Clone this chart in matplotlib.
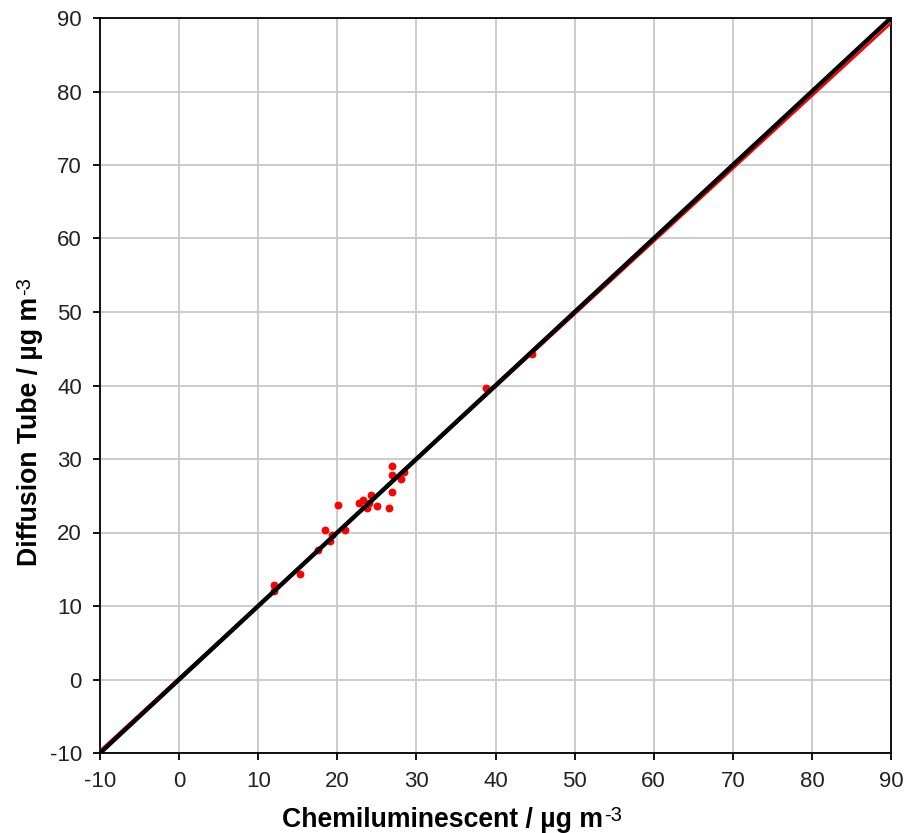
import matplotlib.pyplot as plt
import numpy as np

plt.rcParams['font.family'] = ['Liberation Sans', 'DejaVu Sans']
plt.rcParams['axes.unicode_minus'] = False

# chemiluminescent vs diffusion tube readings (ug m-3)
chemi = [26.9, 26.9, 28.4, 28.0, 26.9, 24.2, 22.8, 23.25, 24.0, 23.7, 25.0, 26.5,
         20.1, 18.5, 21.0, 19.3, 19.1, 17.6, 15.25, 12.0, 12.0, 38.8, 44.6]
tube = [29.1, 27.8, 28.2, 27.3, 25.5, 25.1, 24.0, 24.4, 24.0, 23.3, 23.6, 23.3,
        23.7, 20.4, 20.3, 19.6, 18.8, 17.6, 14.3, 12.9, 12.1, 39.6, 44.3]

# fitted line (slope, intercept) and 1:1 line
fit_slope, fit_intercept = 0.99, 0.2
line_x = [-10, 90]

fig = plt.figure(figsize=(9.07, 8.33), dpi=100)
ax = fig.add_axes([100 / 907, 1 - 753 / 833, 791 / 907, 735 / 833])

ax.scatter(chemi, tube, s=32, color='#ff0000', zorder=3, linewidths=0)
fit_y = [fit_slope * v + fit_intercept for v in line_x]
ax.plot(line_x, fit_y, color='#ff0000', lw=1.8, zorder=4)
ax.plot(line_x, line_x, color='black', lw=3.2, zorder=5)

ax.set_xlim(-10, 90)
ax.set_ylim(-10, 90)
ax.set_xticks(np.arange(-10, 91, 10))
ax.set_yticks(np.arange(-10, 91, 10))
ax.grid(True, color='#c8c8c8', lw=1.3)
ax.set_axisbelow(True)
for s in ax.spines.values():
    s.set_color('black')
    s.set_linewidth(1.3)
ax.tick_params(direction='out', length=5, width=1.3, labelsize=16, colors='black', pad=8)
for lab in ax.get_xticklabels() + ax.get_yticklabels():
    lab.set_color('#222222')

# axis titles, with the "-3" drawn as a small raised plain-weight text
xl = fig.text(282 / 907, 1 - 827 / 833, 'Chemiluminescent / µg m', fontsize=19.2,
              fontweight='bold', ha='left', va='baseline')
ax.annotate('-3', xy=(1, 1), xycoords=xl, xytext=(1, 1), textcoords='offset points',
            fontsize=14.5, ha='left', va='top', annotation_clip=False)

yl = fig.text(30 / 907, 1 - 566 / 833, 'Diffusion Tube / µg m', fontsize=19.2,
              fontweight='bold', rotation=90, ha='center', va='bottom')
ax.annotate('-3', xy=(0, 1), xycoords=yl, xytext=(-1, 1), textcoords='offset points',
            fontsize=14.5, rotation=90, ha='left', va='bottom', annotation_clip=False)

fig.savefig('out.png', dpi=100)
